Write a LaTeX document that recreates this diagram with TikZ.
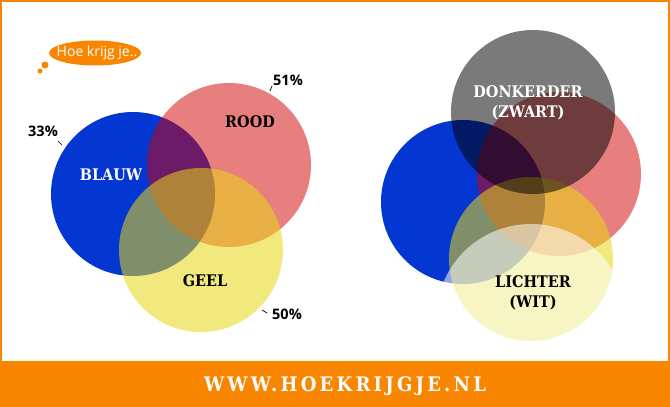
\documentclass[tikz,border=0pt]{standalone}
\usepackage{fontspec}
\setmainfont{Open Sans}
\newfontfamily\slab{DejaVu Serif Condensed}
\usetikzlibrary{shapes.geometric}
\definecolor{hkorange}{RGB}{248,134,0}
\definecolor{hkblue}{RGB}{4,55,209}
\definecolor{hkred}{RGB}{210,0,0}
\definecolor{hkyellow}{RGB}{231,215,20}
\begin{document}
\begin{tikzpicture}[x=1pt,y=-1pt,
  blob/.style={circle, minimum size=164pt, inner sep=0pt, draw=none},
  lab/.style={font=\slab\bfseries\fontsize{16}{20}\selectfont, align=center, inner sep=0pt},
  pct/.style={font=\bfseries\fontsize{14.5}{18}\selectfont, inner sep=0pt},
  tickline/.style={draw=black, line width=0.7pt}]
\useasboundingbox (0,0) rectangle (670,407);
\fill[hkorange] (0,0) rectangle (670,407);
\fill[white] (2,2) rectangle (668,361);
% left diagram
\node[blob, fill=hkblue] (lb) at (133,194) {};
\node[blob, fill=hkred, fill opacity=0.5] (lr) at (229,165) {};
\node[blob, fill=hkyellow, fill opacity=0.55] (ly) at (201,250) {};
\node[lab, text=white] (lbl) at (111,175) {BLAUW};
\node[lab] (lrl) at (250,122) {ROOD};
\node[lab] (lyl) at (205,281) {GEEL};
\node[pct] (p33) at (43,131) {33\%};
\node[pct] (p51) at (288,80) {51\%};
\node[pct] (p50) at (287,314) {50\%};
\coordinate (t33a) at (58,141); \coordinate (t33b) at (62,145);
\coordinate (t51a) at (272,86); \coordinate (t51b) at (270,91);
\coordinate (t50a) at (262,310); \coordinate (t50b) at (267,313);
\draw[tickline] (t33a) -- (t33b);
\draw[tickline] (t51a) -- (t51b);
\draw[tickline] (t50a) -- (t50b);
% bubble
\node[ellipse, fill=hkorange, minimum width=92pt, minimum height=25pt, inner sep=0pt] (bub) at (95,53) {};
\node[text=white, font=\fontsize{14}{16}\selectfont, inner sep=0pt] (bubtxt) at (97,53) {Hoe krijg je..};
\node[circle, fill=hkorange, minimum size=7pt, inner sep=0pt] (d1) at (45,65) {};
\node[circle, fill=hkorange, minimum size=5pt, inner sep=0pt] (d2) at (40,71) {};
% right diagram
\node[blob, fill=hkblue] (rb) at (463,202) {};
\node[blob, fill=hkred, fill opacity=0.5] (rr) at (559,174) {};
\node[blob, fill=hkyellow, fill opacity=0.55] (ry) at (531,259) {};
\node[blob, fill=black, fill opacity=0.52] (rk) at (533,112) {};
\begin{scope}
\clip (2,2) rectangle (668,360);
\node[circle, minimum size=190pt, inner sep=0pt, fill=white, fill opacity=0.55] (rw) at (531,319) {};
\end{scope}
\node[lab, text=white] (rkl) at (528,103) {DONKERDER\\(ZWART)};
\node[lab] (rwl) at (533,293) {LICHTER\\(WIT)};
% footer
\node[text=white, font=\slab\bfseries\fontsize{20}{22}\selectfont\addfontfeatures{LetterSpace=16}, inner sep=0pt] (url) at (345,386) {WWW.HOEKRIJGJE.NL};
\end{tikzpicture}
\end{document}
